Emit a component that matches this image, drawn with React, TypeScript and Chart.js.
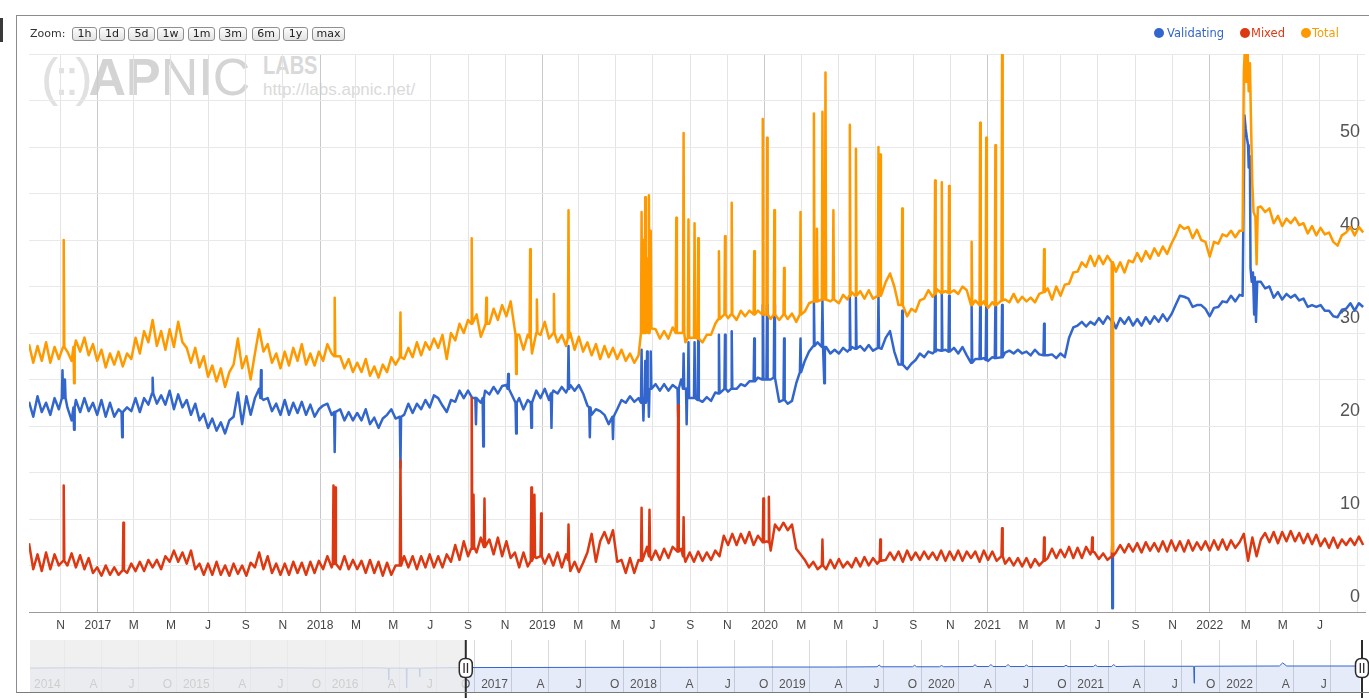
import React, { useEffect, useRef } from 'react';
import { Chart, registerables } from 'chart.js';

Chart.register(...registerables);

// ---------- time frame ----------
const START_DATE = '2016-09-10';
const STEP_DAYS = 7; // spacing of the weekly readings below
const END_DAY = 2194;
const NAV_START_DATE = '2013-10-08';

// ---------- main axis ticks ----------
const xTickDates = ['2016-11-01', '2017-01-01', '2017-03-01', '2017-05-01', '2017-07-01', '2017-09-01', '2017-11-01',
  '2018-01-01', '2018-03-01', '2018-05-01', '2018-07-01', '2018-09-01', '2018-11-01',
  '2019-01-01', '2019-03-01', '2019-05-01', '2019-07-01', '2019-09-01', '2019-11-01',
  '2020-01-01', '2020-03-01', '2020-05-01', '2020-07-01', '2020-09-01', '2020-11-01',
  '2021-01-01', '2021-03-01', '2021-05-01', '2021-07-01', '2021-09-01', '2021-11-01',
  '2022-01-01', '2022-03-01', '2022-05-01', '2022-07-01', '2022-09-01'];
const xTickLabels = ['N', '2017', 'M', 'M', 'J', 'S', 'N', '2018', 'M', 'M', 'J', 'S', 'N', '2019', 'M', 'M', 'J', 'S', 'N',
  '2020', 'M', 'M', 'J', 'S', 'N', '2021', 'M', 'M', 'J', 'S', 'N', '2022', 'M', 'M', 'J', ''];
const yLabelValues = [0, 10, 20, 30, 40, 50];
const yLabelTexts = ['0', '10', '20', '30', '40', '50'];

// ---------- navigator ticks ----------
const navTickDates = ['2014-01-01', '2014-04-01', '2014-07-01', '2014-10-01', '2015-01-01', '2015-04-01', '2015-07-01', '2015-10-01',
  '2016-01-01', '2016-04-01', '2016-07-01', '2016-10-01', '2017-01-01', '2017-04-01', '2017-07-01', '2017-10-01',
  '2018-01-01', '2018-04-01', '2018-07-01', '2018-10-01', '2019-01-01', '2019-04-01', '2019-07-01', '2019-10-01',
  '2020-01-01', '2020-04-01', '2020-07-01', '2020-10-01', '2021-01-01', '2021-04-01', '2021-07-01', '2021-10-01',
  '2022-01-01', '2022-04-01', '2022-07-01'];
const navTickLabels = ['2014', 'A', 'J', 'O', '2015', 'A', 'J', 'O', '2016', 'A', 'J', 'O', '2017', 'A', 'J', 'O',
  '2018', 'A', 'J', 'O', '2019', 'A', 'J', 'O', '2020', 'A', 'J', 'O', '2021', 'A', 'J', 'O', '2022', 'A', 'J'];

// ---------- series: weekly readings (null = replaced by daily readings below) ----------
const totalWeekly = [
  28.8, 26.8, 28.6, 27, 29, 26.8, 28.5, 27.2, 29.5, 28,
  27, 29.2, 28, 29.5, 27.6, 28.8, 27, 28.2, 26.3, 27.8,
  26.6, 28, 26.4, 27.8, 27.2, 29.5, 27.8, 30.2, 29, 31.4,
  28.6, 30.2, 28.2, 30.4, 28.5, 31.2, 29, 28.4, 26.8, 28.4,
  26.3, 27.5, 25.3, 26.5, 24.8, 26.2, 24.2, 25.8, 26.6, 29.4,
  26.2, 27.5, 25, 27.8, 30.4, 28, 28.8, 26.8, 27.8, 26.2,
  28, 26.5, 28.4, 27, 28.8, 26.6, 27.8, 26.5, 28, 27,
  28.8, 27.8, 26.4, 27.5, 26.2, 27.2, 25.8, 26.8, 25.8, 27.2,
  25.4, 26.4, 25.2, 26.6, 25.8, 27.4, 26.6, 28, 27.2, 28.4,
  27.4, 29, 27.6, 29, 28.2, 29.4, 28.4, 29.8, 27.2, 30,
  29.2, 31, 30, 31.4, 30.6, 32, 29.6, 32.2, 31, 32.6,
  31.4, 33, 31.8, 33.4, 30.2, 29.8, 28.2, 29.8, 27.8, 30.6,
  29.8, 31.2, 29.4, 31, 29, 29.8, 28.6, 30, 28.2, 29.6,
  28, 29, 27.6, 28.8, 27.2, 28.6, 27.4, 28.4, 27.2, 28.2,
  27, 27.8, 26.8, 27.6, 30, 31, 29.4, 30.4, 29.4, 30.2,
  29.4, 30.6, 29.6, 30, 29, 29.8, 29, 29.8, 29, 29.8,
  29.8, 31, 31.6, 32.4, 31.6, 32.4, 31.4, 32.4, 31.8, 32.4,
  31.6, 32.4, 31.6, 32.3, 31.5, 32.4, 31.4, 32.2, 31.5, 32.1,
  31.2, 32, 32.3, 33.2, 33, 33.9, 33.2, 34, 33.4, 34,
  33.2, 34.1, 33.6, 34.4, 33.6, 34.5, 33.7, 34.6, 33.7, 34.3,
  33.9, 35.5, 36.4, 35, 33, 32.2, 31.8, 32.6, 32.3, 33.5,
  33.7, 34.6, 33.9, 34.7, 34, 34.5, 34, 34.6, 34.2, 35,
  34.6, 33, 33.5, 32.7, 33.4, 32.7, 33.3, 32.8, 33.4, 33.6,
  33.3, 34.2, 33.3, 33.9, 33.4, 33.8, 33.3, 34.2, 34.1, 34.8,
  33.6, 35, 34, 35.2, 35.3, 36.5, 36.6, 37.6, 37.1, 38.3,
  37.2, 38.3, 37.4, 38.3, 37.8, 36.6, 37.6, 36.5, 37.8, 37.6,
  38.6, 37.7, 38.8, 38, 39.1, 38.3, 39.3, 38.5, 39.6, 40.5,
  41.6, 41.2, 41.4, 40.2, 41.1, 40, 39.8, 38.2, 39.8, 39.6,
  40.6, 40.4, 41, 40.3, 41, null, null, null, null, 43.6,
  43, 43.4, 41.8, 42.6, 41.5, 42.3, 41.8, 42.4, 41.6, 41.8,
  40.7, 41.5, 40.5, 41.3, 40.6, 40.8, 39.8, 39.4, 40.5, 40.8,
  41.4, 40.5, 41.4, 40.8,
];

const validatingWeekly = [
  22.6, 21, 23.2, 21.5, 22.5, 21.2, 23, 21.8, 23.6, 22,
  20.6, 22.8, 21.5, 23, 21.6, 22.5, 21.2, 22.8, 21, 22.5,
  21, 21.8, 20.8, 22, 21.6, 23, 21.5, 23, 22.3, 24.2,
  22.4, 23.3, 22.3, 23.8, 21.8, 23.4, 22, 22.8, 21.2, 22.4,
  20.6, 21.3, 19.8, 20.8, 19.5, 20.4, 19.2, 20.6, 21, 23.6,
  20.2, 23.2, 21.2, 23, 24, 22.8, 23, 21.6, 22.4, 21.2,
  22.8, 21.2, 22.5, 21.4, 22.6, 21.2, 22.3, 21, 21.8, 22.2,
  22.4, 21.2, 20.8, 21.8, 20.6, 21.5, 20.6, 21.4, 20.6, 21.8,
  20.2, 20.9, 19.8, 20.8, 21.2, 21.8, 20.8, 21.6, 21.2, 22.4,
  21.4, 22.4, 21.8, 22.8, 22, 23.3, 23, 22.2, 21.5, 22.8,
  22.6, 23.8, 23, 23.8, 23, 21.6, 22.5, 23.8, 23.4, 24.2,
  23.5, 24.3, 24.4, 23.6, 22.4, 23, 21.8, 22.8, 22.6, 23.8,
  23, 24, 22.8, 23.8, 23.5, 24.2, 23.6, 24.4, 23.8, 24.4,
  23.5, 22.2, 21.2, 21.8, 21.6, 21.2, 20.2, 19.4, 21.8, 22.8,
  22.5, 23.2, 22.6, 23, 24, 25, 23.6, 24.5, 23.8, 24.5,
  23.8, 24.4, 23.8, 25, 24.5, 23.2, 22.8, 23.2, 22.6, 23.1,
  22.7, 23.6, 23.5, 24.2, 23.7, 24.3, 24, 24.5, 24.3, 24.8,
  24.5, 25.2, 24.8, 25.2, 25, 24.5, 22.6, 23, 22.4, 22.7,
  24.6, 25.8, 27, 28, 28.4, 29, 28.3, 28.5, 27.8, 28.2,
  27.8, 28.4, 28, 28.5, 28.1, 28.6, 28.1, 28.7, 28.1, 28.6,
  28.3, 29.5, 30.2, 28, 26.6, 26.7, 26.1, 26.7, 27.1, 27.8,
  27.4, 28, 27.8, 28.2, 27.9, 28.2, 27.8, 28.4, 27.8, 28.5,
  27.6, 26.6, 27.2, 26.9, 27.3, 27, 27.4, 27, 27.5, 27.9,
  28.1, 27.8, 28.2, 27.8, 28, 27.6, 28.2, 27.7, 28, 27.6,
  27.7, 27.3, 27.8, 27.4, 29.5, 30.6, 30.8, 31.2, 30.7, 31.2,
  30.9, 31.6, 31, 31.8, 31.2, 30.5, 31.6, 31, 31.7, 30.8,
  31.5, 30.8, 31.7, 31, 31.8, 31.2, 32, 31.3, 32, 33,
  34, 33.9, 33.7, 32.8, 33, 33, 32.6, 31.8, 32.7, 32.8,
  33.4, 33.3, 34, 33.4, 34.1, null, null, null, null, 35.5,
  34.8, 35, 33.8, 34.4, 33.6, 34.2, 33.8, 34.1, 33.5, 33.7,
  32.8, 33, 32.8, 33, 32.4, 32.4, 31.8, 31.7, 32.5, 32.6,
  33.2, 32.4, 33.2, 32.8,
];

const mixedWeekly = [
  7.4, 4.6, 6.2, 4.4, 6.4, 4.6, 6.2, 5, 6.3, 5,
  6.3, 4.8, 6.1, 4.6, 5.8, 4.2, 4.8, 3.9, 5, 4,
  4.8, 4, 5, 4.2, 5.2, 4.4, 5.4, 4.4, 5.6, 4.8,
  5.6, 4.6, 6, 5.4, 6.6, 5.4, 6.4, 5.2, 6.6, 4.6,
  5.2, 4, 5.2, 4, 5.4, 4, 5, 3.9, 5.2, 4.1,
  5, 3.9, 5.3, 4.8, 6.4, 4.6, 6, 4.2, 5.2, 4,
  5.2, 4, 5.4, 4.2, 5.3, 4, 5.4, 4.2, 5.5, 4.6,
  6, 4.8, 6, 4.6, 6, 4.6, 5.6, 4.6, 5.5, 4.2,
  5.6, 4.2, 5.4, 3.9, 5.3, 4, 5, 4.3, 6, 4.8,
  6, 4.6, 6, 4.8, 6.2, 4.8, 6, 4.8, 6.2, 5.4,
  7.2, 5.6, 7.6, 6, 8.2, 6.4, 8, 6, 7.8, 6.2,
  8, 6, 7.6, 5.8, 6.4, 4.8, 6.4, 4.9, 6.6, 5.8,
  6.8, 5.2, 6.2, 5, 6.4, 4.8, 6.2, 4.4, 5.4, 4.3,
  5.3, 6.4, 8.4, 5.4, 7.6, 8.6, 7.4, 8.8, 5.4, 5.6,
  4.2, 5.8, 4.2, 5.6, 5.4, 7, 5.6, 6.6, 5.6, 6.8,
  5.8, 7, 5.9, 6.8, 5.4, 6.4, 5.4, 6.5, 5.5, 6.4,
  5.6, 6.6, 6, 8.2, 7.2, 8.4, 7.2, 8.4, 7.4, 8.6,
  7.2, 8.2, 6.6, 7.6, 6.6, 9.4, 8.8, 9.6, 8.8, 9.4,
  6.8, 6.2, 5.6, 4.8, 5.4, 4.6, 5.4, 4.6, 5.6, 4.7,
  5.7, 4.8, 5.4, 4.8, 5.8, 4.9, 5.9, 5, 5.8, 5.2,
  6.6, 5.6, 6.4, 5.6, 6.5, 5.4, 6.6, 5.6, 6.4, 5.6,
  6.5, 5.7, 6.4, 5.6, 6.6, 5.5, 6.5, 5.6, 6.6, 5.5,
  6.5, 5.8, 6.5, 5.4, 6.6, 5.6, 6.5, 5.5, 6.4, 5.2,
  5.8, 5, 5.8, 4.9, 5.8, 4.8, 5.7, 5, 6.4, 5.8,
  6.8, 5.8, 6.7, 5.9, 7, 5.8, 6.9, 5.8, 7, 6.2,
  6.4, 5.7, 6.3, 5.6, 6.4, 6.4, 7.2, 6.4, 7.3, 6.5,
  7.4, 6.4, 7.5, 6.6, 7.4, 6.5, 7.6, 6.5, 7.7, 6.6,
  7.6, 6.5, 7.7, 6.6, 7.5, 6.7, 7.6, 6.6, 7.7, 6.7,
  7.8, 6.7, 7.7, 6.9, 7.5, 8.4, 5.5, 8, 6, 7.8,
  8.5, 7.5, 8.6, 7.4, 8.6, 7.6, 8.7, 7.6, 8.5, 7.4,
  8.4, 7.3, 8.3, 7.1, 7.9, 6.9, 8, 6.9, 7.8, 7.2,
  7.9, 7.2, 8.1, 7.2,
];

// one-day spikes: [day from start, peak value, value on the days either side]
const totalSpikes = [
  [57, 40, 28.5], [74, 24.6, 28.5], [502, 33.8, 27.5], [610, 32.2, 27.4], [727, 40.2, 31], [751, 33.8, 31],
  [800, 25.6, 29.8], [823, 39, 29.5], [834, 33.6, 30], [862, 34.2, 30], [886, 43.2, 29.5],
  [1006, 43, 30], [1009, 40, 30.5], [1012, 44.6, 30], [1015, 38, 30.5], [1018, 44.8, 30], [1021, 41, 30.5],
  [1063, 42.4, 30], [1075, 51.5, 30], [1083, 42.2, 29.5], [1093, 41.8, 29.5], [1099, 40.2, 29.4],
  [1133, 38.8, 31.5], [1143, 40.4, 32], [1154, 44, 32], [1191, 38.8, 32], [1205, 53, 32], [1212, 51, 32],
  [1224, 43.2, 32], [1240, 37, 32], [1267, 43, 32], [1289, 53.6, 33.4], [1294, 41.2, 33.4], [1303, 53.8, 33.6],
  [1308, 58, 33.6], [1321, 43.2, 33.6], [1348, 52.4, 34], [1358, 49.8, 34], [1395, 50, 34], [1398, 49.2, 34],
  [1434, 43.4, 33], [1488, 46.4, 34.2], [1499, 46.2, 34.3], [1511, 45.8, 34.3], [1548, 39.8, 33],
  [1562, 52.6, 33], [1572, 51, 33], [1587, 50.2, 33], [1598, 59.9, 33.5], [1667, 39, 34.4], [1779, 6.5, 37.6],
];
const validatingSpikes = [
  [55, 26, 23], [59, 25, 23], [74, 19.6, 22], [153, 18.8, 21.5], [203, 25.2, 23.5], [381, 26, 23],
  [502, 17.2, 21.5], [610, 15.5, 21], [734, 20.2, 23], [746, 17.8, 23], [787, 25.6, 24], [800, 19.2, 22.5],
  [825, 19.8, 22.5], [858, 19.8, 23.5], [886, 28.6, 24], [921, 18.8, 22], [959, 18.6, 21],
  [1006, 28.2, 22.5], [1009, 20.6, 23], [1012, 27, 22.5], [1015, 28, 23], [1018, 21, 24], [1021, 28, 24],
  [1066, 21, 24], [1075, 27.8, 24], [1080, 20.2, 24], [1083, 29, 23], [1093, 29, 23], [1099, 29.4, 22.8],
  [1133, 29.8, 23.5], [1143, 29.8, 24], [1154, 30.2, 24], [1191, 29.4, 24.8], [1205, 33, 25], [1212, 33, 25],
  [1224, 33, 25.2], [1240, 29.4, 22.8], [1267, 29.4, 25.8], [1289, 33.4, 28.6], [1303, 33.5, 28.5],
  [1306, 24.6, 28.5], [1348, 33.8, 28.2], [1358, 33.8, 28.3], [1395, 34, 28.4], [1434, 32.4, 26.6],
  [1488, 34.2, 28], [1499, 34.2, 28.1], [1511, 34, 28], [1548, 33, 26.8], [1562, 33, 27.2], [1572, 33, 27.1],
  [1587, 33, 27.3], [1598, 33, 27.4], [1667, 31, 27.6], [1779, 0.4, 31.3],
];
const mixedSpikes = [
  [57, 13.6, 5.5], [155, 9.6, 4.5], [500, 13.6, 5.2], [503, 13.4, 5.2], [610, 16.3, 5], [727, 23, 6.8],
  [730, 12.6, 7], [748, 12.2, 7], [825, 13.4, 5.5], [830, 12.6, 6], [841, 10.6, 6], [886, 9.4, 5.6],
  [1006, 11.2, 5.5], [1019, 11, 6], [1066, 22.2, 6.5], [1075, 10.2, 6], [1206, 12.2, 7.5], [1215, 12.4, 7.5],
  [1303, 7.8, 5], [1398, 7.8, 5.5], [1598, 9, 6], [1667, 8, 5.5], [1746, 8, 6.5], [1779, 7.4, 6],
];

// daily readings around the March 2022 surge: [day from start, value]
const totalDaily = [
  [1993, 41], [1995, 58], [1997, 61], [1999, 57], [2001, 61], [2003, 56], [2005, 59], [2007, 52],
  [2009, 46], [2011, 43], [2014, 42.5], [2016, 37.4], [2018, 43.5],
];
const validatingDaily = [
  [1993, 34], [1996, 53.4], [1998, 52], [2000, 51], [2002, 50.2], [2003, 47.8], [2005, 49], [2006, 37],
  [2008, 35.5], [2010, 36.5], [2012, 32], [2013, 36], [2015, 31.2], [2017, 35.5],
];
const mixedDaily: number[][] = [];

// ---------- navigator overview line ----------
const navDates = ['2013-10-08', '2014-02-01', '2014-06-01', '2014-10-01', '2015-02-01', '2015-06-01', '2015-10-01',
  '2016-02-01', '2016-03-04', '2016-03-05', '2016-03-06', '2016-04-17', '2016-04-18', '2016-04-19', '2016-05-19',
  '2016-05-20', '2016-05-21', '2016-09-10', '2017-03-01', '2017-09-01', '2018-03-01', '2018-09-01', '2019-03-01',
  '2019-06-15', '2019-06-20', '2019-06-25', '2019-09-10', '2019-09-15', '2019-09-20', '2019-11-15', '2019-11-20',
  '2019-11-25', '2020-02-05', '2020-02-10', '2020-02-15', '2020-03-15', '2020-03-20', '2020-03-25', '2020-04-26',
  '2020-05-01', '2020-05-06', '2020-06-10', '2020-06-15', '2020-06-20', '2020-09-15', '2020-09-20', '2020-09-25',
  '2020-11-26', '2020-12-01', '2020-12-06', '2021-01-10', '2021-01-15', '2021-01-20', '2021-03-01', '2021-07-30',
  '2021-07-31', '2021-08-01', '2022-02-25', '2022-03-05', '2022-03-15', '2022-09-12'];
const navValues = [46, 46.5, 46, 46.5, 46, 46.5, 46, 46.5, 46, 23, 46, 46, 8, 46, 46, 29, 46, 47, 47.2, 47.5, 47.5,
  48, 48, 48.5, 52, 48.5, 48.5, 51.5, 48.5, 48.5, 51, 48.5, 49, 52.5, 49, 49, 53, 49, 49, 53, 49, 49, 52, 49, 49,
  51.5, 49, 49, 52, 49, 49, 53, 49, 49.5, 49.5, 17, 49.5, 50, 56, 50, 50];

const COLORS = { validating: '#3366cc', mixed: '#dc3912', total: '#ff9900' };

// ---------- helpers ----------
const dayOf = (s: string) => Math.round((Date.parse(s) - Date.parse(START_DATE)) / 86400000);

function buildPoints(weekly: (number | null)[], spikes: number[][], daily: number[][]) {
  const extra: { x: number; y: number }[] = [];
  spikes.forEach(([d, peak, base]) => {
    extra.push({ x: d - 1, y: base }, { x: d, y: peak }, { x: d + 1, y: base });
  });
  daily.forEach(([d, v]) => extra.push({ x: d, y: v }));
  const pts: { x: number; y: number }[] = [];
  weekly.forEach((v, i) => {
    const x = i * STEP_DAYS;
    if (v === null) return;
    if (extra.some((p) => Math.abs(p.x - x) <= 1)) return;
    pts.push({ x, y: v });
  });
  return pts.concat(extra).sort((a, b) => a.x - b.x);
}

function MainChart() {
  const ref = useRef<HTMLCanvasElement>(null);
  useEffect(() => {
    const tickDays = xTickDates.map(dayOf);
    const yearDays = new Set(xTickDates.filter((d) => d.endsWith('-01-01')).map(dayOf));
    const labelsPlugin = {
      id: 'apnicLabels',
      beforeDatasetsDraw(chart: any) {
        const { ctx, chartArea } = chart;
        const ys = chart.scales.y;
        ctx.save();
        ctx.font = '18px "Liberation Sans", Arial, sans-serif';
        ctx.fillStyle = '#555';
        ctx.textAlign = 'right';
        ctx.textBaseline = 'middle';
        yLabelValues.forEach((v, k) => ctx.fillText(yLabelTexts[k], chartArea.right - 5, ys.getPixelForValue(v) - 15));
        ctx.restore();
      },
      afterDraw(chart: any) {
        const { ctx, chartArea } = chart;
        const xs = chart.scales.x;
        ctx.save();
        ctx.font = '12px "Liberation Sans", Arial, sans-serif';
        ctx.fillStyle = '#444';
        ctx.textAlign = 'center';
        ctx.textBaseline = 'middle';
        tickDays.forEach((d, k) => {
          if (xTickLabels[k]) ctx.fillText(xTickLabels[k], xs.getPixelForValue(d), chartArea.bottom + 14);
        });
        ctx.restore();
      },
    };
    const ds = (label: string, color: string, data: any, order: number) => ({
      label, data, borderColor: color, backgroundColor: color, borderWidth: 2.5, pointRadius: 0,
      tension: 0, fill: false, order, borderJoinStyle: 'round' as const,
    });
    const chart = new Chart(ref.current as HTMLCanvasElement, {
      type: 'line',
      data: {
        datasets: [
          ds('Validating', COLORS.validating, buildPoints(validatingWeekly, validatingSpikes, validatingDaily), 3),
          ds('Mixed', COLORS.mixed, buildPoints(mixedWeekly, mixedSpikes, mixedDaily), 2),
          ds('Total', COLORS.total, buildPoints(totalWeekly, totalSpikes, totalDaily), 1),
        ],
      },
      options: {
        animation: false,
        responsive: false,
        maintainAspectRatio: false,
        devicePixelRatio: 1,
        events: [],
        layout: { padding: { left: 29, right: 4, top: 54, bottom: 28 } },
        plugins: { legend: { display: false }, tooltip: { enabled: false } },
        scales: {
          x: {
            type: 'linear', min: 0, max: END_DAY,
            afterBuildTicks: (s: any) => { s.ticks = tickDays.map((v) => ({ value: v })); },
            ticks: { display: false },
            grid: {
              drawTicks: false,
              color: (c: any) => (c.tick && yearDays.has(c.tick.value) ? '#c9c9c9' : '#e4e4e4'),
            },
            border: { display: true, color: '#9a9a9a', width: 1 },
          },
          y: {
            type: 'linear', min: 0, max: 60, position: 'right',
            ticks: { display: false, stepSize: 5 },
            grid: { drawTicks: false, color: '#e9e9e9' },
            border: { display: false },
          },
        },
      } as any,
      plugins: [labelsPlugin],
    });
    return () => chart.destroy();
  }, []);
  return <canvas ref={ref} width={1369} height={640} style={{ position: 'absolute', left: 0, top: 0, width: 1369, height: 640 }} />;
}

function Navigator() {
  const ref = useRef<HTMLCanvasElement>(null);
  useEffect(() => {
    const tickDays = navTickDates.map(dayOf);
    const points = navDates.map((d, k) => ({ x: dayOf(d), y: navValues[k] }));
    const drawHandle = (ctx: CanvasRenderingContext2D, x: number) => {
      ctx.save();
      ctx.strokeStyle = '#2b2b2b';
      ctx.lineWidth = 2;
      ctx.beginPath();
      ctx.moveTo(x, 10);
      ctx.lineTo(x, 68);
      ctx.stroke();
      const w = 13, h = 19, cy = 38;
      ctx.beginPath();
      const r = 6;
      const l = x - w / 2, t = cy - h / 2;
      ctx.moveTo(l + r, t);
      ctx.lineTo(l + w - r, t);
      ctx.quadraticCurveTo(l + w, t, l + w, t + r);
      ctx.lineTo(l + w, t + h - r);
      ctx.quadraticCurveTo(l + w, t + h, l + w - r, t + h);
      ctx.lineTo(l + r, t + h);
      ctx.quadraticCurveTo(l, t + h, l, t + h - r);
      ctx.lineTo(l, t + r);
      ctx.quadraticCurveTo(l, t, l + r, t);
      ctx.closePath();
      ctx.fillStyle = '#fff';
      ctx.fill();
      ctx.lineWidth = 1.5;
      ctx.stroke();
      ctx.lineWidth = 1.3;
      ctx.beginPath();
      ctx.moveTo(x - 1.7, cy - 5); ctx.lineTo(x - 1.7, cy + 5);
      ctx.moveTo(x + 1.7, cy - 5); ctx.lineTo(x + 1.7, cy + 5);
      ctx.stroke();
      ctx.restore();
    };
    const navPlugin = {
      id: 'navDecor',
      afterDatasetsDraw(chart: any) {
        const { ctx, chartArea } = chart;
        const xs = chart.scales.x;
        ctx.save();
        ctx.font = '12px "Liberation Sans", Arial, sans-serif';
        ctx.fillStyle = '#555';
        ctx.textAlign = 'right';
        ctx.textBaseline = 'middle';
        tickDays.forEach((d, k) => ctx.fillText(navTickLabels[k], xs.getPixelForValue(d) - 4, 55));
        const selStart = xs.getPixelForValue(0);
        const selEnd = xs.getPixelForValue(END_DAY);
        ctx.fillStyle = 'rgba(236,236,236,0.8)';
        ctx.fillRect(chartArea.left, chartArea.top, selStart - chartArea.left, chartArea.bottom - chartArea.top);
        ctx.restore();
        drawHandle(ctx, selStart);
        drawHandle(ctx, selEnd + 1);
      },
    };
    const chart = new Chart(ref.current as HTMLCanvasElement, {
      type: 'line',
      data: {
        datasets: [{
          label: 'overview', data: points, borderColor: COLORS.validating, borderWidth: 1, pointRadius: 0,
          tension: 0, fill: 'origin', backgroundColor: 'rgba(51,102,204,0.13)',
        }],
      },
      options: {
        animation: false,
        responsive: false,
        maintainAspectRatio: false,
        devicePixelRatio: 1,
        events: [],
        layout: { padding: { left: 30, right: 8, top: 10, bottom: 8 } },
        plugins: { legend: { display: false }, tooltip: { enabled: false } },
        scales: {
          x: {
            type: 'linear', min: dayOf(NAV_START_DATE), max: END_DAY,
            afterBuildTicks: (s: any) => { s.ticks = tickDays.map((v) => ({ value: v })); },
            ticks: { display: false },
            grid: { drawTicks: false, color: '#dadada' },
            border: { display: false },
          },
          y: { type: 'linear', min: 0, max: 100, display: false },
        },
      } as any,
      plugins: [navPlugin],
    });
    return () => chart.destroy();
  }, []);
  return <canvas ref={ref} width={1369} height={70} style={{ position: 'absolute', left: 0, top: 630, width: 1369, height: 70 }} />;
}

const zoomButtons = [
  { t: '1h', l: 72, w: 25 }, { t: '1d', l: 99, w: 26 }, { t: '5d', l: 128, w: 27 }, { t: '1w', l: 157, w: 27 },
  { t: '1m', l: 188, w: 27 }, { t: '3m', l: 219, w: 28 }, { t: '6m', l: 252, w: 28 }, { t: '1y', l: 283, w: 25 },
  { t: 'max', l: 312, w: 33 },
];

const legendItems = [
  { t: 'Validating', c: COLORS.validating, dot: 1154, text: 1167 },
  { t: 'Mixed', c: COLORS.mixed, dot: 1239.5, text: 1251 },
  { t: 'Total', c: COLORS.total, dot: 1301, text: 1312 },
];

function Watermark() {
  return (
    <div style={{ position: 'absolute', left: 0, top: 0, pointerEvents: 'none' }}>
      <div style={{ position: 'absolute', left: 41, top: 51, fontFamily: '"Liberation Sans", Arial, sans-serif', fontSize: 52, lineHeight: '52px', whiteSpace: 'nowrap' }}>
        <span style={{ color: '#e1e1e1', letterSpacing: -4 }}>(::)</span>
        <span style={{ color: '#d4d4d4', fontWeight: 'bold' }}>AP</span>
        <span style={{ color: '#d4d4d4' }}>NIC</span>
      </div>
      <div style={{ position: 'absolute', left: 263, top: 53, fontFamily: '"Liberation Sans", Arial, sans-serif', fontSize: 25, lineHeight: '25px', fontWeight: 'bold', color: '#d9d9d9', transform: 'scaleX(0.8)', transformOrigin: 'left top', whiteSpace: 'nowrap' }}>LABS</div>
      <div style={{ position: 'absolute', left: 263, top: 81, fontFamily: '"Liberation Sans", Arial, sans-serif', fontSize: 17, lineHeight: '17px', color: '#dadada', whiteSpace: 'nowrap' }}>http://labs.apnic.net/</div>
    </div>
  );
}

export default function App() {
  return (
    <div style={{ position: 'absolute', left: 0, top: 0, width: 1369, height: 700, overflow: 'hidden', background: '#fff', fontFamily: '"DejaVu Sans", sans-serif' }}>
      <div style={{ position: 'absolute', left: 0, top: 18, width: 3, height: 24, background: '#3a3a3a' }} />
      <Watermark />
      <MainChart />
      <Navigator />
      <div style={{ position: 'absolute', left: 16, top: 15, width: 1400, height: 676, borderTop: '1px solid #8c8c8c', borderLeft: '1px solid #8c8c8c', borderBottom: '1px solid #7a7a7a', pointerEvents: 'none' }} />
      <div style={{ position: 'absolute', left: 30, top: 27, height: 14, lineHeight: '14px', fontSize: 11, color: '#333' }}>Zoom:</div>
      {zoomButtons.map((b) => (
        <div key={b.t} style={{ position: 'absolute', left: b.l, top: 27, width: b.w, height: 14, boxSizing: 'border-box', border: '1px solid #8f8f8f', borderRadius: 3, background: 'linear-gradient(#fdfdfd, #e2e2e2)', fontSize: 11, lineHeight: '12px', textAlign: 'center', color: '#222' }}>{b.t}</div>
      ))}
      {legendItems.map((it) => (
        <React.Fragment key={it.t}>
          <div style={{ position: 'absolute', left: it.dot, top: 27.5, width: 10, height: 10, borderRadius: '50%', background: it.c }} />
          <div style={{ position: 'absolute', left: it.text, top: 26, lineHeight: '14px', fontSize: 11.5, color: it.c, whiteSpace: 'nowrap' }}>{it.t}</div>
        </React.Fragment>
      ))}
    </div>
  );
}
